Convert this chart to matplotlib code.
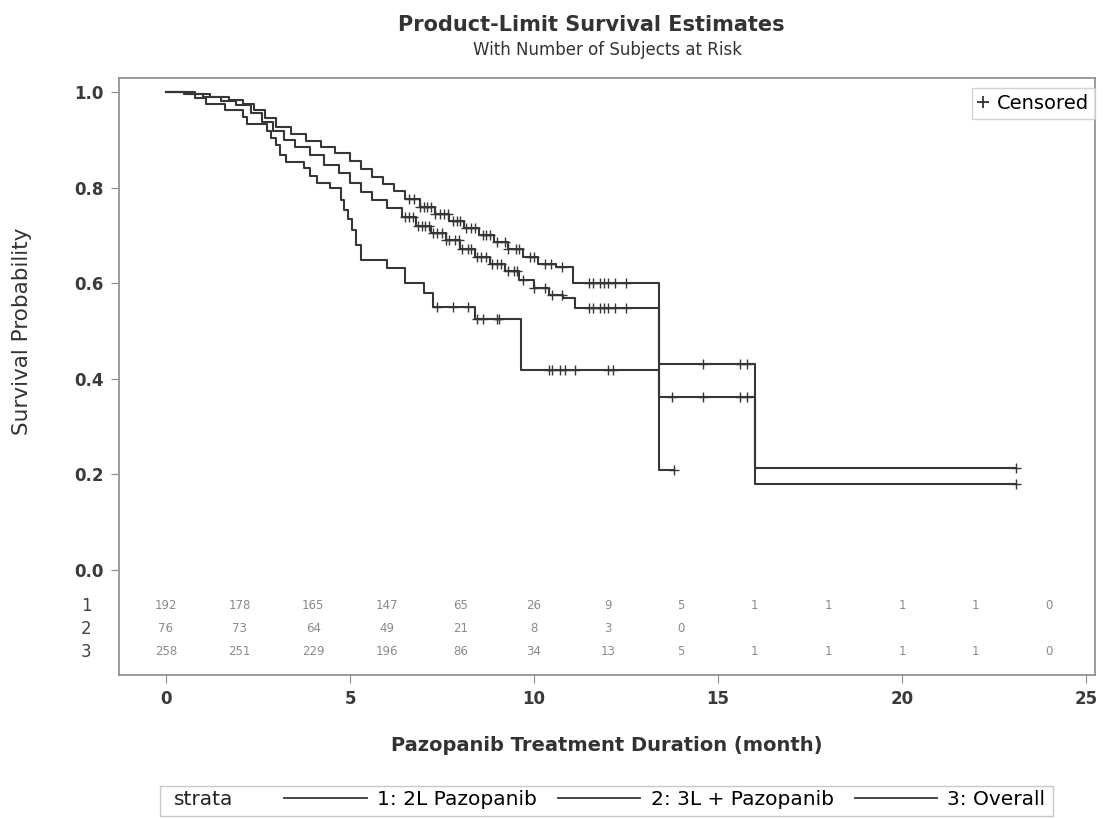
import numpy as np
import matplotlib.pyplot as plt
from matplotlib.lines import Line2D
from matplotlib.patches import Rectangle

# Kaplan-Meier steps (month, survival after the drop)
t1 = [0, 0.6, 1.2, 1.7, 2.1, 2.4, 2.7, 3.0, 3.4, 3.8, 4.2, 4.6, 5.0, 5.3, 5.6, 5.9, 6.2, 6.5,
      6.9, 7.3, 7.7, 8.1, 8.5, 8.9, 9.3, 9.7, 10.1, 10.6, 11.05, 13.4, 16.0]
s1 = [1.0, 0.995, 0.99, 0.984, 0.974, 0.962, 0.945, 0.927, 0.912, 0.898, 0.885, 0.872, 0.855,
      0.838, 0.822, 0.808, 0.793, 0.776, 0.76, 0.745, 0.73, 0.715, 0.70, 0.686, 0.672, 0.655,
      0.64, 0.633, 0.601, 0.43, 0.213]
end1 = 23.1
c1 = [6.6, 6.75, 6.9, 7.0, 7.1, 7.2, 7.3, 7.45, 7.55, 7.65, 7.8, 7.9, 8.0, 8.15, 8.3, 8.4, 8.6,
      8.7, 8.8, 9.0, 9.2, 9.3, 9.5, 9.6, 9.9, 10.0, 10.3, 10.45, 10.75, 11.5, 11.6, 11.8, 11.9,
      12.0, 12.2, 12.5, 14.6, 15.6, 15.8, 23.1]

t2 = [0, 0.8, 1.1, 1.6, 2.1, 2.2, 2.75, 2.85, 3.0, 3.1, 3.25, 3.75, 3.9, 4.1, 4.45, 4.75, 4.85,
      4.95, 5.05, 5.15, 5.3, 6.0, 6.5, 7.0, 7.25, 8.4, 9.65, 13.4]
s2 = [1.0, 0.987, 0.974, 0.962, 0.948, 0.933, 0.918, 0.904, 0.89, 0.868, 0.853, 0.84, 0.825,
      0.81, 0.80, 0.775, 0.753, 0.735, 0.712, 0.68, 0.648, 0.632, 0.60, 0.58, 0.55, 0.525,
      0.418, 0.209]
end2 = 13.8
c2 = [7.36, 7.8, 8.2, 8.45, 8.6, 9.0, 9.05, 10.4, 10.5, 10.7, 10.85, 11.1, 12.0, 12.15, 13.8]

t3 = [0, 0.5, 1.0, 1.5, 1.9, 2.3, 2.6, 2.9, 3.2, 3.5, 3.9, 4.3, 4.7, 5.0, 5.3, 5.6, 6.0, 6.4,
      6.8, 7.2, 7.6, 8.0, 8.4, 8.8, 9.2, 9.6, 10.0, 10.4, 10.8, 11.1, 13.4, 16.0]
s3 = [1.0, 0.996, 0.99, 0.982, 0.972, 0.955, 0.937, 0.918, 0.90, 0.885, 0.868, 0.848, 0.83,
      0.81, 0.79, 0.775, 0.757, 0.738, 0.72, 0.705, 0.69, 0.672, 0.655, 0.64, 0.625, 0.607,
      0.59, 0.575, 0.569, 0.548, 0.362, 0.18]
end3 = 23.1
c3 = [6.5, 6.6, 6.7, 6.85, 6.95, 7.05, 7.15, 7.25, 7.35, 7.5, 7.6, 7.7, 7.85, 7.95, 8.05, 8.2,
      8.3, 8.45, 8.55, 8.7, 8.85, 9.0, 9.1, 9.3, 9.45, 9.55, 9.7, 10.0, 10.3, 10.5, 10.75,
      11.5, 11.6, 11.8, 11.9, 12.0, 12.2, 12.5, 13.75, 14.6, 15.6, 15.8, 23.1]

strata = ['1: 2L Pazopanib', '2: 3L + Pazopanib', '3: Overall']

# number at risk every 2 months
risk_times = [0, 2, 4, 6, 8, 10, 12, 14, 16, 18, 20, 22, 24]
risk1 = [192, 178, 165, 147, 65, 26, 9, 5, 1, 1, 1, 1, 0]
risk2 = [76, 73, 64, 49, 21, 8, 3, 0]
risk3 = [258, 251, 229, 196, 86, 34, 13, 5, 1, 1, 1, 1, 0]

plt.rcParams['font.family'] = ['DejaVu Sans']
line_col = '#363636'
frame_col = '#8a8a8a'

fig = plt.figure(figsize=(11.08, 8.19), dpi=100)
ax = fig.add_axes([0.1074, 0.1758, 0.8808, 0.729])

curves = [(t1, s1, end1, c1), (t2, s2, end2, c2), (t3, s3, end3, c3)]
for t, s, e, c in curves:
    x = list(t) + [e]
    y = list(s) + [s[-1]]
    ax.step(x, y, where='post', color=line_col, lw=1.5)
    idx = np.searchsorted(t, c, side='right') - 1
    ax.plot(c, np.array(s)[idx], ls='', marker='+', ms=7, mew=1.0, color=line_col)

# at-risk table inside the axes
row_y = [-0.0753, -0.1234, -0.1715]
for ry, counts in zip(row_y, [risk1, risk2, risk3]):
    for tt, n in zip(risk_times, counts):
        ax.text(tt, ry, str(n), ha='center', va='center', fontsize=8.5, color='#8a8a8a')
trans = ax.get_yaxis_transform()
for i, ry in enumerate(row_y):
    ax.text(-0.028, ry, str(i + 1), transform=trans, ha='right', va='center',
            fontsize=12, color='#444444')

ax.set_xlim(-1.277, 25.24)
ax.set_ylim(-0.2197, 1.0293)
ax.set_yticks([0.0, 0.2, 0.4, 0.6, 0.8, 1.0])
ax.set_yticklabels(['0.0', '0.2', '0.4', '0.6', '0.8', '1.0'])
ax.set_xticks([0, 5, 10, 15, 20, 25])
for lab in ax.get_xticklabels() + ax.get_yticklabels():
    lab.set_fontweight('bold')
    lab.set_color('#3a3a3a')
    lab.set_fontsize(12)
ax.tick_params(direction='out', length=6, color=frame_col, pad=5)
for sp in ax.spines.values():
    sp.set_color(frame_col)
    sp.set_linewidth(1.2)

ax.set_xlabel('Pazopanib Treatment Duration (month)', fontsize=14, fontweight='bold',
              color='#333333', labelpad=20)
ax.set_ylabel('Survival Probability', fontsize=15.5, color='#333333')
ax.yaxis.set_label_coords(-0.089, 0.576)

fig.text(0.534, 0.9695, 'Product-Limit Survival Estimates', ha='center', va='center',
         fontsize=15, fontweight='bold', color='#333333')
fig.text(0.548, 0.939, 'With Number of Subjects at Risk', ha='center', va='center',
         fontsize=12, color='#333333')

cens = Line2D([], [], ls='', marker='+', ms=9, mew=1.3, color='#333333')
leg = ax.legend([cens], ['Censored'], loc='upper right', bbox_to_anchor=(1.0, 0.983),
                fontsize=14, frameon=True, fancybox=False, edgecolor='#c8c8c8',
                handlelength=0.6, handletextpad=0.4, borderaxespad=0.0, borderpad=0.3)

# strata legend at the bottom
handles = [Line2D([], [], color=line_col, lw=1.3) for _ in strata]
fig.legend(handles, strata, loc='center', bbox_to_anchor=(0.600, 0.0232), ncol=3,
           fontsize=14.5, frameon=False, handlelength=4.1, handletextpad=0.5,
           columnspacing=1.05)
fig.text(0.157, 0.0232, 'strata', ha='left', va='center', fontsize=14.5, color='#222222')
fig.patches.append(Rectangle((0.1444, 0.004), 0.806, 0.0366, transform=fig.transFigure,
                             fill=False, edgecolor='#c8c8c8', lw=1.0))

fig.savefig('out.png', dpi=100)
